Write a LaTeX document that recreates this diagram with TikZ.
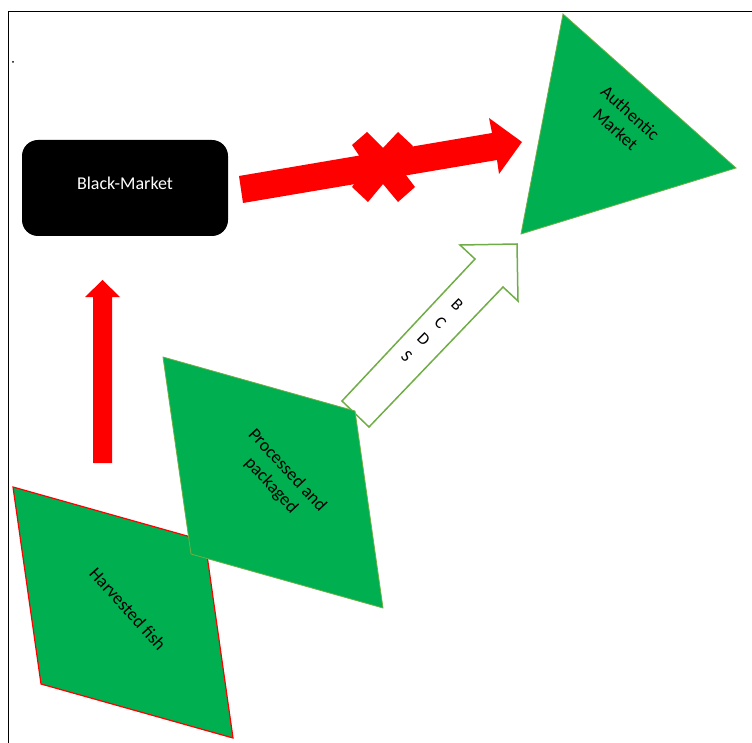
\documentclass[tikz,border=0pt]{standalone}
\usepackage{fontspec}
\setmainfont{Carlito}
\definecolor{offgreen}{HTML}{00B050}
\definecolor{edgegreen}{HTML}{70AD47}
\definecolor{offred}{HTML}{FF0000}
\tikzset{
  label18/.style={font=\fontsize{18}{22}\selectfont, align=center, inner sep=0pt},
  greenshape/.style={fill=offgreen, draw=edgegreen, line width=0.8pt, line join=miter},
  redshape/.style={fill=offred, draw=none},
}
\begin{document}
\begin{tikzpicture}[x=1pt,y=-1pt]
\useasboundingbox (0,0) rectangle (752,743);
% frame
\draw[line width=1pt] (8,743) -- (8,12) -- (752,12);
% small dot
\fill (13,62) circle (1pt);
% Black-Market box
\node[fill=black, rounded corners=16pt, minimum width=206pt, minimum height=96pt, inner sep=0pt] (bm) at (125,188) {};
\node[label18, text=white] (bmtext) at (125,183) {Black-Market};
% red up arrow
\fill[offred] (93,463) -- (93,297) -- (85,297) -- (102.5,280) -- (120,297) -- (112,297) -- (112,463) -- cycle;
% red big arrow to authentic market
\fill[offred] (239,176) -- (492,133) -- (489,118) -- (522,142) -- (499,174) -- (497,160) -- (243,203) -- cycle;
% cross mark
\fill[offred] (352,145) -- (367,132) -- (383,148) -- (398,132) -- (413,146) -- (399,166) -- (415,187) -- (398,202) -- (383,184) -- (368,202) -- (352,187) -- (366,166) -- cycle;
% Authentic market triangle
\draw[greenshape] (563,14) -- (736,168) -- (521,234) -- cycle;
\node[label18, rotate=-41.7] (am) at (623,121) {Authentic\\Market};
% BCDS hollow arrow
\draw[fill=white, draw=edgegreen, line width=1.5pt, line join=miter] (342,401) -- (475,259) -- (460,245) -- (517,244) -- (518,301) -- (503,287) -- (369,427) -- cycle;
\node[font=\fontsize{17}{24}\selectfont, align=center, inner sep=0pt, rotate=-44.5] (bcds) at (432,331) {B\\C\\D\\S};
% Harvested fish
\draw[fill=offgreen, draw=offred, line width=1.2pt, line join=miter] (13,487) -- (205,541) -- (233,738) -- (41,684) -- cycle;
\node[label18, rotate=-48] (hf) at (128,609) {Harvested fish};
% Processed and packaged
\draw[greenshape] (163,357) -- (355,411) -- (383,608) -- (191,554) -- cycle;
\node[label18, rotate=-47] (pp) at (279,478) {Processed and\\packaged};
\end{tikzpicture}
\end{document}
